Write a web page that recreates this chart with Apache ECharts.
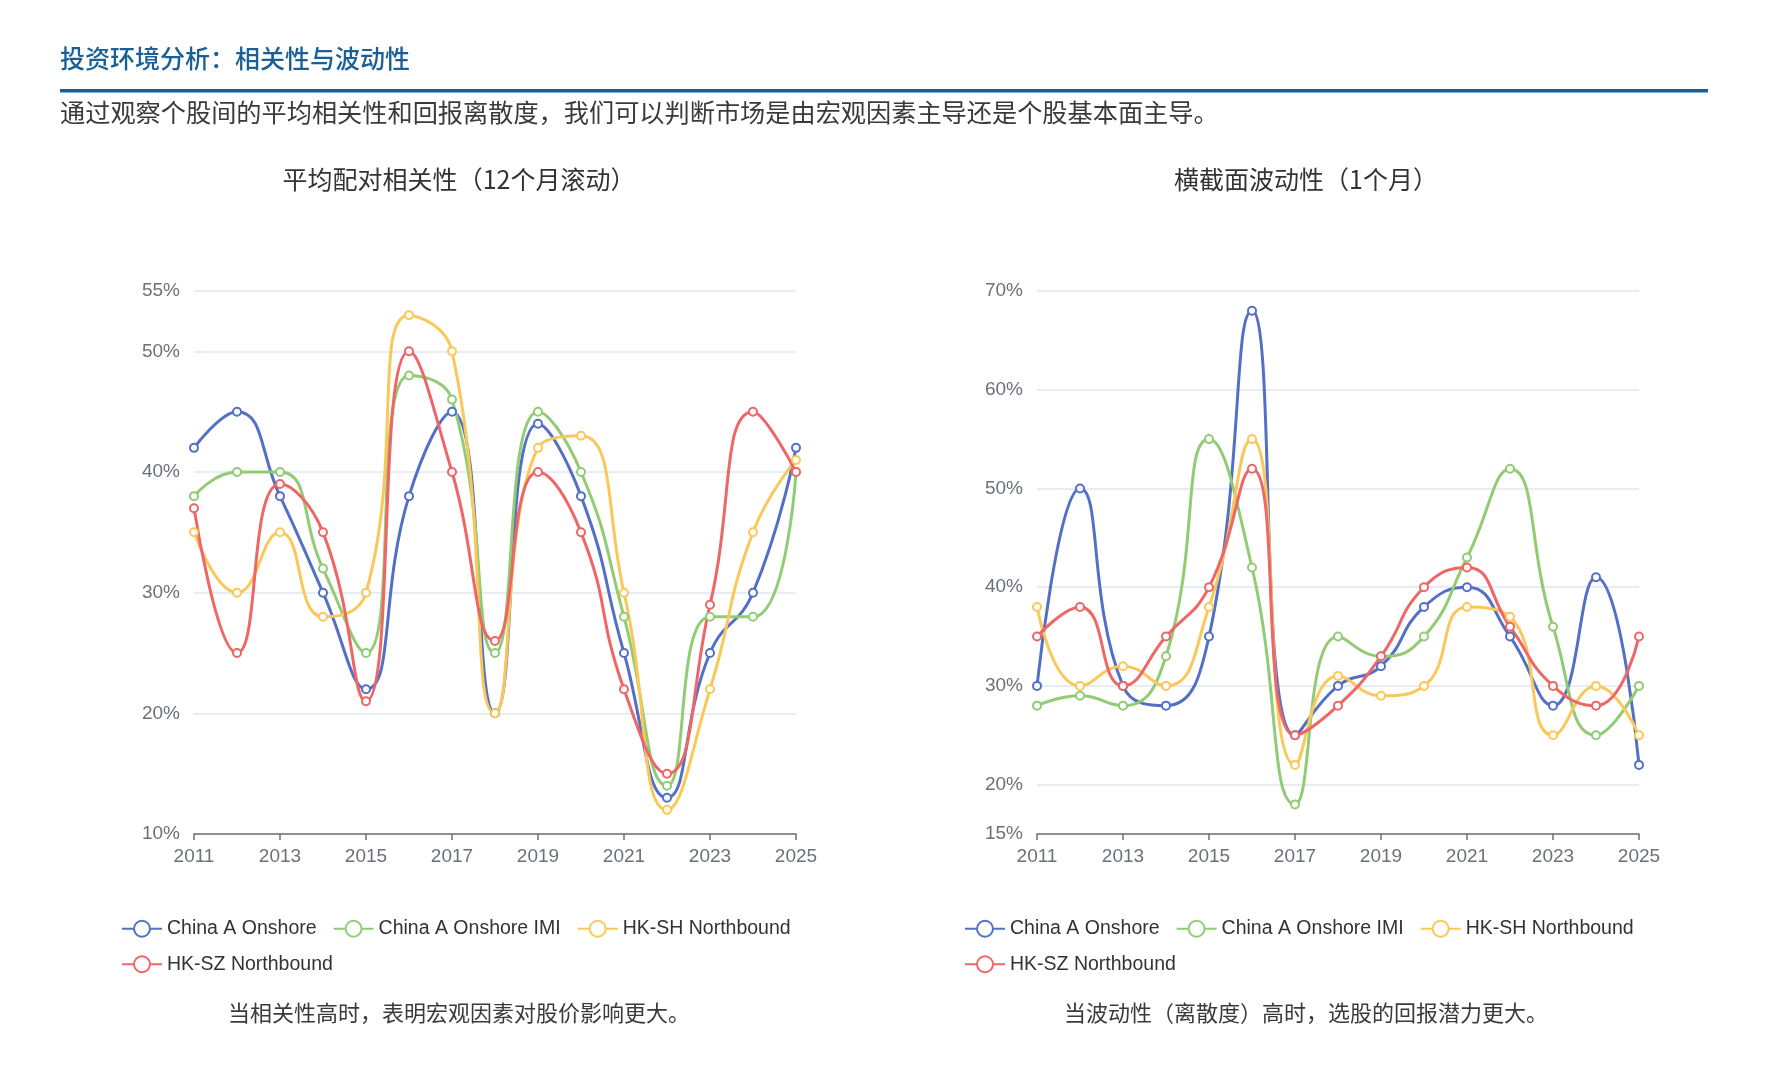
<!DOCTYPE html>
<html>
<head>
<meta charset="utf-8">
<script src="https://cdn.jsdelivr.net/npm/echarts@6/dist/echarts.min.js"></script>
<style>
html,body{margin:0;padding:0;background:#fff;}
#main{width:1767px;height:1080px;}
</style>
</head>
<body>
<div id="main"></div>
<script>
const years = ['2011','2012','2013','2014','2015','2016','2017','2018','2019','2020','2021','2022','2023','2024','2025'];
const seriesNames = ['China A Onshore','China A Onshore IMI','HK-SH Northbound','HK-SZ Northbound'];

// 平均配对相关性（12个月滚动）, %
const corrOnshore = [42,45,38,30,22,38,45,20,44,38,25,13,25,30,42];
const corrIMI     = [38,40,40,32,25,48,46,25,45,40,28,14,28,28,40];
const corrHKSH    = [35,30,35,28,30,53,50,20,42,43,30,12,22,35,41];
const corrHKSZ    = [37,25,39,35,21,50,40,26,40,35,22,15,29,45,40];

// 横截面波动性（1个月）, %
const volOnshore = [30,50,30,28,35,68,25,30,32,38,40,35,28,41,22];
const volIMI     = [28,29,28,33,55,42,18,35,33,35,43,52,36,25,30];
const volHKSH    = [38,30,32,30,38,55,22,31,29,30,38,37,25,30,25];
const volHKSZ    = [35,38,30,35,40,52,25,28,33,40,42,36,30,28,35];

const colors = ['#5470c6','#91cc75','#fac858','#ee6666'];
const latin = "'Liberation Sans', 'Noto Sans CJK SC', sans-serif";
const cjk = "'Noto Sans CJK SC', sans-serif";

function mkSeries(name, data, idx, color){
  return {
    name: name, type: 'line', xAxisIndex: idx, yAxisIndex: idx,
    data: data, smooth: true, symbol: 'emptyCircle', symbolSize: 8,
    lineStyle: {width: 3, color: color},
    itemStyle: {color: color, borderWidth: 2},
    emphasis: {disabled: true}
  };
}
function xAxisCfg(idx){
  return {
    type: 'category', gridIndex: idx, data: years, boundaryGap: false,
    axisLine: {lineStyle: {color: '#6e7079', width: 1.5}},
    axisTick: {interval: 1, length: 6, lineStyle: {color: '#6e7079', width: 1.5}},
    axisLabel: {interval: 1, color: '#6e7079', fontSize: 19, margin: 13, fontFamily: latin}
  };
}
function yAxisCfg(idx, min, max){
  return {
    type: 'value', gridIndex: idx, min: min, max: max, splitNumber: 5,
    axisLine: {show: false}, axisTick: {show: false},
    axisLabel: {color: '#6e7079', fontSize: 19, margin: 14, fontFamily: latin,
      formatter: function(v){ return v + '%'; }},
    splitLine: {lineStyle: {color: '#e0e6f1', width: 1.5}}
  };
}
function legendCfg(left){
  return {
    left: left, top: 914, width: 720, orient: 'horizontal',
    itemWidth: 40, itemHeight: 20, itemGap: 16,
    data: seriesNames,
    textStyle: {color: '#333', fontSize: 19.5, fontFamily: latin}
  };
}

const chart = echarts.init(document.getElementById('main'), null, {renderer: 'canvas'});
chart.setOption({
  backgroundColor: '#fff',
  color: colors,
  animation: false,
  grid: [
    {left: 194, right: 971, top: 291, bottom: 246},
    {left: 1037, right: 128, top: 291, bottom: 246}
  ],
  xAxis: [xAxisCfg(0), xAxisCfg(1)],
  yAxis: [yAxisCfg(0, 10, 55), yAxisCfg(1, 15, 70)],
  legend: [legendCfg(116), legendCfg(959)],
  graphic: [
    {type: 'text', left: 60, top: 46, style: {text: '投资环境分析：相关性与波动性', fill: '#1a5f96', font: '500 25px ' + cjk}},
    {type: 'rect', shape: {x: 60, y: 89, width: 1648, height: 3.4}, style: {fill: '#1a5f96'}},
    {type: 'text', left: 60, top: 100, style: {text: '通过观察个股间的平均相关性和回报离散度，我们可以判断市场是由宏观因素主导还是个股基本面主导。', fill: '#3a3a3a', font: '25.2px ' + cjk}},
    {type: 'text', x: 459, y: 179, style: {text: '平均配对相关性（12个月滚动）', fill: '#333', font: '25px ' + cjk, textAlign: 'center', textVerticalAlign: 'middle'}},
    {type: 'text', x: 1306, y: 179, style: {text: '横截面波动性（1个月）', fill: '#333', font: '25px ' + cjk, textAlign: 'center', textVerticalAlign: 'middle'}},
    {type: 'text', x: 459, y: 1013, style: {text: '当相关性高时，表明宏观因素对股价影响更大。', fill: '#3a3a3a', font: '22px ' + cjk, textAlign: 'center', textVerticalAlign: 'middle'}},
    {type: 'text', x: 1306, y: 1013, style: {text: '当波动性（离散度）高时，选股的回报潜力更大。', fill: '#3a3a3a', font: '22px ' + cjk, textAlign: 'center', textVerticalAlign: 'middle'}}
  ],
  series: [
    mkSeries(seriesNames[0], corrOnshore, 0, colors[0]),
    mkSeries(seriesNames[1], corrIMI, 0, colors[1]),
    mkSeries(seriesNames[2], corrHKSH, 0, colors[2]),
    mkSeries(seriesNames[3], corrHKSZ, 0, colors[3]),
    mkSeries(seriesNames[0], volOnshore, 1, colors[0]),
    mkSeries(seriesNames[1], volIMI, 1, colors[1]),
    mkSeries(seriesNames[2], volHKSH, 1, colors[2]),
    mkSeries(seriesNames[3], volHKSZ, 1, colors[3])
  ]
});
</script>
</body>
</html>
